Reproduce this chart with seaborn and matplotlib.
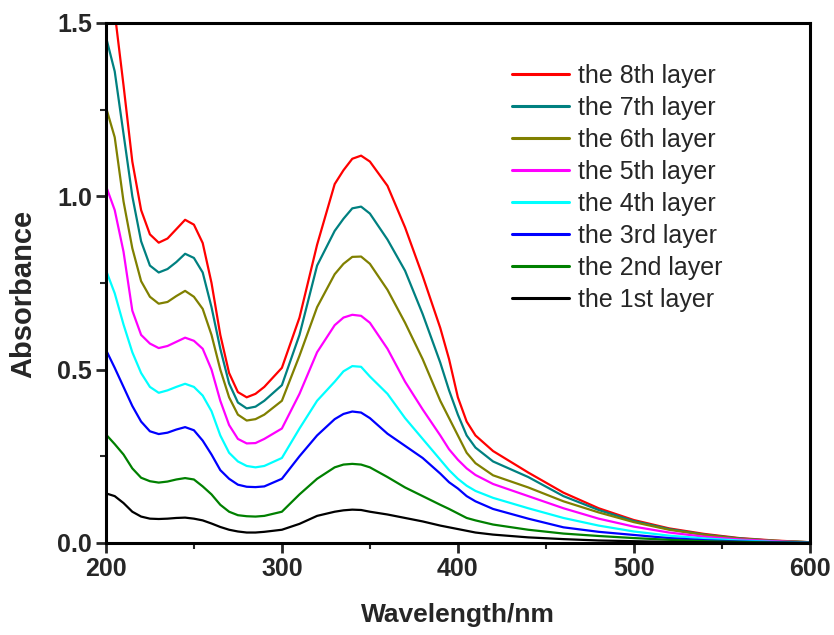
import matplotlib
matplotlib.use("Agg")
import matplotlib.pyplot as plt
from matplotlib.ticker import MultipleLocator
import seaborn as sns
import pandas as pd

# Wavelength grid (nm)
wavelength = [200, 205, 210, 215, 220, 225, 230, 235, 240, 245, 250, 255, 260, 265, 270,
              275, 280, 285, 290, 300, 310, 320, 330, 335, 340, 345, 350, 360, 370, 380,
              390, 395, 400, 405, 410, 420, 440, 460, 480, 500, 520, 540, 560, 580, 600]

# Absorbance of each deposited layer
layer_8 = [1.70, 1.53, 1.32, 1.10, 0.96, 0.89, 0.866, 0.878, 0.905, 0.932, 0.918, 0.865, 0.75, 0.60, 0.49,
           0.435, 0.42, 0.43, 0.45, 0.505, 0.65, 0.86, 1.035, 1.075, 1.108, 1.117, 1.10, 1.03, 0.91, 0.77,
           0.62, 0.53, 0.42, 0.35, 0.31, 0.265, 0.203, 0.145, 0.10, 0.066, 0.042, 0.026, 0.014, 0.007, 0.002]
layer_7 = [1.46, 1.36, 1.18, 1.00, 0.87, 0.80, 0.78, 0.79, 0.81, 0.834, 0.822, 0.78, 0.68, 0.56, 0.46,
           0.405, 0.388, 0.393, 0.41, 0.455, 0.60, 0.80, 0.90, 0.935, 0.965, 0.97, 0.95, 0.875, 0.785, 0.66,
           0.52, 0.44, 0.37, 0.31, 0.275, 0.235, 0.19, 0.135, 0.095, 0.063, 0.04, 0.024, 0.013, 0.006, 0.002]
layer_6 = [1.257, 1.17, 0.985, 0.85, 0.755, 0.71, 0.69, 0.695, 0.712, 0.727, 0.71, 0.675, 0.60, 0.50, 0.42,
           0.37, 0.353, 0.357, 0.37, 0.41, 0.54, 0.68, 0.775, 0.805, 0.825, 0.826, 0.805, 0.73, 0.635, 0.53,
           0.41, 0.36, 0.31, 0.26, 0.23, 0.195, 0.16, 0.12, 0.088, 0.06, 0.038, 0.023, 0.012, 0.006, 0.002]
layer_5 = [1.03, 0.96, 0.84, 0.67, 0.60, 0.575, 0.562, 0.568, 0.58, 0.592, 0.583, 0.56, 0.50, 0.41, 0.34,
           0.30, 0.287, 0.288, 0.30, 0.33, 0.43, 0.55, 0.628, 0.65, 0.658, 0.655, 0.635, 0.56, 0.465, 0.385,
           0.31, 0.27, 0.24, 0.215, 0.196, 0.17, 0.135, 0.10, 0.07, 0.047, 0.03, 0.018, 0.01, 0.005, 0.001]
layer_4 = [0.787, 0.72, 0.63, 0.55, 0.49, 0.45, 0.433, 0.44, 0.45, 0.459, 0.45, 0.425, 0.38, 0.31, 0.26,
           0.235, 0.222, 0.218, 0.222, 0.245, 0.33, 0.41, 0.465, 0.495, 0.51, 0.508, 0.48, 0.43, 0.36, 0.30,
           0.24, 0.21, 0.185, 0.165, 0.15, 0.13, 0.10, 0.072, 0.05, 0.033, 0.021, 0.013, 0.007, 0.003, 0.001]
layer_3 = [0.557, 0.505, 0.45, 0.395, 0.35, 0.322, 0.314, 0.318, 0.327, 0.334, 0.325, 0.295, 0.255, 0.21, 0.185,
           0.168, 0.162, 0.161, 0.163, 0.185, 0.25, 0.31, 0.357, 0.372, 0.379, 0.376, 0.36, 0.315, 0.28, 0.245,
           0.20, 0.175, 0.157, 0.135, 0.12, 0.098, 0.07, 0.045, 0.032, 0.023, 0.014, 0.008, 0.004, 0.002, 0.0]
layer_2 = [0.313, 0.285, 0.255, 0.215, 0.188, 0.178, 0.174, 0.177, 0.183, 0.187, 0.183, 0.163, 0.14, 0.11, 0.09,
           0.08, 0.077, 0.076, 0.078, 0.09, 0.14, 0.185, 0.218, 0.226, 0.228, 0.226, 0.218, 0.19, 0.16, 0.135,
           0.11, 0.098, 0.085, 0.072, 0.065, 0.053, 0.038, 0.027, 0.02, 0.014, 0.009, 0.005, 0.003, 0.001, 0.0]
layer_1 = [0.143, 0.135, 0.115, 0.09, 0.076, 0.07, 0.069, 0.07, 0.072, 0.073, 0.07, 0.065, 0.056, 0.046, 0.038,
           0.033, 0.03, 0.03, 0.032, 0.038, 0.055, 0.078, 0.09, 0.094, 0.096, 0.095, 0.09, 0.082, 0.072, 0.062,
           0.05, 0.045, 0.04, 0.035, 0.03, 0.024, 0.016, 0.011, 0.007, 0.005, 0.003, 0.002, 0.001, 0.0, 0.0]

labels = ["the 8th layer", "the 7th layer", "the 6th layer", "the 5th layer",
          "the 4th layer", "the 3rd layer", "the 2nd layer", "the 1st layer"]
series = [layer_8, layer_7, layer_6, layer_5, layer_4, layer_3, layer_2, layer_1]
colors = ["#FF0000", "#008080", "#808000", "#FF00FF", "#00FFFF", "#0000FF", "#008000", "#000000"]

df = pd.concat(
    [pd.DataFrame({"Wavelength": wavelength, "Absorbance": vals, "Layer": lab})
     for lab, vals in zip(labels, series)],
    ignore_index=True,
)

sns.set_style("ticks")
plt.rcParams["font.family"] = ["Liberation Sans", "DejaVu Sans"]

fig = plt.figure(figsize=(8.34, 6.35), dpi=100)
ax = fig.add_axes([0.127, 0.145, 0.844, 0.819])

sns.lineplot(data=df, x="Wavelength", y="Absorbance", hue="Layer",
             hue_order=labels, palette=colors, linewidth=1.6, ax=ax, sort=False)

ax.set_xlim(200, 600)
ax.set_ylim(0.0, 1.5)
ax.xaxis.set_major_locator(MultipleLocator(100))
ax.xaxis.set_minor_locator(MultipleLocator(50))
ax.yaxis.set_major_locator(MultipleLocator(0.5))
ax.yaxis.set_minor_locator(MultipleLocator(0.25))
ax.set_yticks([0.0, 0.5, 1.0, 1.5])
ax.set_yticklabels(["0.0", "0.5", "1.0", "1.5"])

for side in ["left", "bottom", "top", "right"]:
    ax.spines[side].set_visible(True)
    ax.spines[side].set_linewidth(2.2)
    ax.spines[side].set_color("black")

ax.tick_params(axis="both", which="major", direction="out", length=7, width=2,
               labelsize=18, pad=3, top=False, right=False)
ax.tick_params(axis="both", which="minor", direction="out", length=4, width=1.5,
               top=False, right=False)
for lbl in ax.get_xticklabels() + ax.get_yticklabels():
    lbl.set_fontweight("bold")

ax.set_xlabel("Wavelength/nm", fontsize=19, fontweight="bold", labelpad=16)
ax.set_ylabel("Absorbance", fontsize=21, fontweight="bold")
ax.yaxis.set_label_coords(-0.097, 0.479)

leg = ax.legend(loc="upper left", bbox_to_anchor=(0.562, 0.94), frameon=False,
                fontsize=18, handlelength=2.3, handletextpad=0.35, labelspacing=0.32,
                borderaxespad=0)
for line in leg.get_lines():
    line.set_linewidth(2.2)

fig.savefig("out.png", dpi=100, facecolor="white")
